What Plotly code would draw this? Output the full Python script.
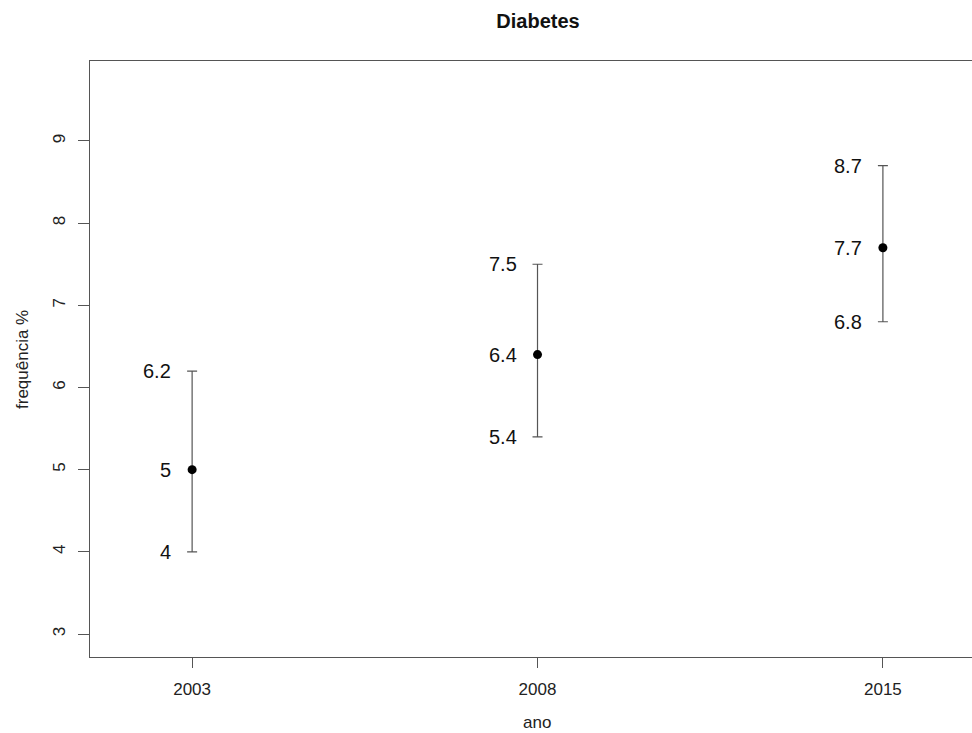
import plotly.graph_objects as go

anos = ["2003", "2008", "2015"]
valores = [5.0, 6.4, 7.7]
inferior = [4.0, 5.4, 6.8]
superior = [6.2, 7.5, 8.7]
yticks = [3, 4, 5, 6, 7, 8, 9]

xpos = list(range(len(anos)))
err_plus = [s - v for s, v in zip(superior, valores)]
err_minus = [v - i for v, i in zip(valores, inferior)]

L, T, B, R = 90, 61, 657, 972
W, H = 972, 733
PW, PH = R - L, B - T

fig = go.Figure()
fig.add_trace(go.Scatter(
    x=xpos, y=valores, mode="markers",
    marker=dict(color="black", size=9),
    error_y=dict(type="data", symmetric=False, array=err_plus, arrayminus=err_minus,
                 color="#555555", thickness=1.2, width=5),
    showlegend=False, hoverinfo="skip",
))

FONT = "Liberation Sans, Arial, sans-serif"
for x, lo, v, hi in zip(xpos, inferior, valores, superior):
    for val in (lo, v, hi):
        txt = f"{val:g}"
        fig.add_annotation(x=x, y=val, text=txt, showarrow=False, xanchor="right",
                           yanchor="middle", xshift=-19,
                           font=dict(family=FONT, size=20, color="#111111"))

fig.add_annotation(xref="paper", yref="paper", x=(537 - L) / PW, y=(B - 723) / PH,
                   text="ano", showarrow=False, xanchor="center", yanchor="middle",
                   font=dict(family=FONT, size=17, color="#222222"))
fig.add_annotation(xref="paper", yref="paper", x=(22 - L) / PW, y=(B - 360) / PH,
                   text="frequência %", showarrow=False, textangle=-90,
                   xanchor="center", yanchor="middle",
                   font=dict(family=FONT, size=17, color="#222222"))

fig.update_layout(
    width=W, height=H,
    margin=dict(l=L, r=W - R, t=T, b=H - B),
    paper_bgcolor="white", plot_bgcolor="white",
    title=dict(text="<b>Diabetes</b>", x=538 / W, xref="container", xanchor="center",
               y=1 - 21 / H, yref="container", yanchor="middle",
               font=dict(family=FONT, size=20, color="#111111")),
    font=dict(family=FONT, size=17, color="#222222"),
)
fig.update_xaxes(
    range=[-(192 - L) / 345, 2 + (R - 883) / 345], tickmode="array", tickvals=xpos,
    ticktext=anos,
    showgrid=False, zeroline=False, showline=True, linecolor="#555555", linewidth=1.2,
    mirror=True, ticks="outside", ticklen=10, tickcolor="#555555", ticklabelstandoff=6,
    tickfont=dict(family=FONT, size=17, color="#222222"),
)
fig.update_yaxes(
    range=[3 - (B - 634) / 82.17, 3 + (634 - T) / 82.17],
    tickmode="array", tickvals=yticks,
    showgrid=False, zeroline=False, showline=True, linecolor="#555555", linewidth=1.2,
    ticks="outside", ticklen=11, tickcolor="#555555", tickangle=-90, ticklabelstandoff=6,
    tickfont=dict(family=FONT, size=17, color="#222222"),
)

fig.write_html("out.html", config={"displayModeBar": False},
               post_script="document.body.style.margin='0';document.body.style.overflow='hidden';")
